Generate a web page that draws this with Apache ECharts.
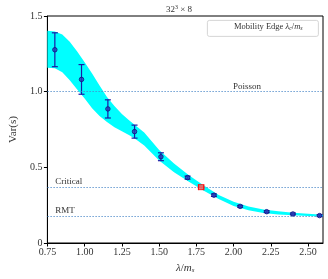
<!DOCTYPE html>
<html>
<head>
<meta charset="utf-8">
<script src="https://cdn.jsdelivr.net/npm/echarts@6/dist/echarts.min.js"></script>
<style>html,body{margin:0;padding:0;background:#fff}#c{width:328px;height:279px}</style>
</head>
<body>
<div id="c"></div>
<script>
// ---- data ----
const bandX     = [0.75, 0.80, 0.85, 0.90, 0.95, 1.00, 1.05, 1.10, 1.15, 1.20, 1.25, 1.30, 1.35, 1.40, 1.50, 1.60, 1.70, 1.80, 1.90, 2.00, 2.10, 2.20, 2.30, 2.40, 2.50, 2.60];
const bandUpper = [1.403, 1.398, 1.378, 1.330, 1.265, 1.195, 1.120, 1.040, 0.965, 0.905, 0.852, 0.810, 0.770, 0.730, 0.615, 0.525, 0.448, 0.380, 0.318, 0.272, 0.241, 0.222, 0.209, 0.200, 0.193, 0.187];
const bandLower = [1.158, 1.155, 1.128, 1.075, 1.015, 0.955, 0.890, 0.840, 0.800, 0.765, 0.738, 0.712, 0.680, 0.645, 0.545, 0.468, 0.405, 0.345, 0.290, 0.245, 0.216, 0.199, 0.188, 0.184, 0.179, 0.175];
const ptX   = [0.800, 0.979, 1.156, 1.335, 1.512, 1.691, 1.868, 2.044, 2.222, 2.398, 2.577];
const ptY   = [1.277, 1.081, 0.886, 0.736, 0.570, 0.432, 0.316, 0.242, 0.207, 0.192, 0.181];
const ptErr = [0.112, 0.098, 0.060, 0.043, 0.026, 0.010, 0.008, 0.006, 0.006, 0.006, 0.006];
const edgeX = [1.782], edgeY = [0.369], edgeXErr = [0.018];
const refY = [1.0, 0.369, 0.178];
const refLabels = ['Poisson', 'Critical', 'RMT'];
const refLabelX = [2.09, 0.803, 0.803];
const xTicks = [0.75, 1.00, 1.25, 1.50, 1.75, 2.00, 2.25, 2.50];
const yTicks = [0, 0.5, 1.0, 1.5];
const yTickLabels = ['0', '0.5', '1.0', '1.5'];

const FONT = '"Liberation Serif", "DejaVu Serif", serif';
const BLUE = '#1a1aa6';
const REF = '#4a86c8';

const chart = echarts.init(document.getElementById('c'), null, {renderer: 'canvas'});

const option = {
  animation: false,
  title: {
    text: '32{sup|3} × 8', left: 161, top: -1,
    textStyle: {fontFamily: FONT, fontSize: 9, fontWeight: 'normal', color: '#333',
      rich: {sup: {fontFamily: FONT, fontSize: 6, verticalAlign: 'top', padding: [0,0,5,0], color: '#333'}}}
  },
  grid: {left: 37, right: 5, top: 16, bottom: 35, show: true, borderColor: '#000', borderWidth: 1, backgroundColor: 'transparent'},
  xAxis: {
    type: 'value', min: 0.75, max: 2.6,
    name: '{i|λ}/{i|m}{s|s}', nameLocation: 'middle', nameGap: 20,
    nameTextStyle: {fontFamily: FONT, fontSize: 11, color: '#333',
      rich: {i: {fontFamily: FONT, fontStyle: 'italic', fontSize: 11, color: '#333'},
             s: {fontFamily: FONT, fontStyle: 'italic', fontSize: 7, verticalAlign: 'bottom', padding: [4,0,0,0], color: '#333'}}},
    axisLine: {show: true, lineStyle: {color: '#000', width: 1}},
    axisTick: {show: true, length: 3.5, lineStyle: {color: '#000'}, customValues: xTicks},
    axisLabel: {fontFamily: FONT, fontSize: 10, color: '#333', margin: 4, customValues: xTicks,
      formatter: v => v.toFixed(2)},
    splitLine: {show: false}
  },
  yAxis: {
    type: 'value', min: 0, max: 1.5, interval: 0.5,
    name: 'Var(s)', nameLocation: 'middle', nameGap: 21,
    nameTextStyle: {fontFamily: FONT, fontSize: 11, color: '#333'},
    axisLine: {show: true, lineStyle: {color: '#000', width: 1}},
    axisTick: {show: true, length: 3.5, lineStyle: {color: '#000'}},
    axisLabel: {fontFamily: FONT, fontSize: 10, color: '#333', margin: 5,
      formatter: v => { const i = yTicks.findIndex(t => Math.abs(t - v) < 1e-9); return i >= 0 ? yTickLabels[i] : ''; }},
    splitLine: {show: false}
  },
  series: [
    {type: 'custom', name: 'band', z: 1, silent: true, clip: true,
     data: [[bandX[0], bandLower[0]]],
     renderItem: (params, api) => {
       const pts = [];
       for (let i = 0; i < bandX.length; i++) pts.push(api.coord([bandX[i], bandUpper[i]]));
       for (let i = bandX.length - 1; i >= 0; i--) pts.push(api.coord([bandX[i], bandLower[i]]));
       return {type: 'polygon', shape: {points: pts}, style: {fill: '#00ffff', stroke: null}};
     }},
    {type: 'line', name: 'refs', data: [], z: 3, silent: true,
     markLine: {silent: true, symbol: 'none', animation: false,
       lineStyle: {color: REF, type: [1.5, 1.5], width: 0.8},
       label: {show: false},
       data: refY.map(y => ({yAxis: y}))},
     markPoint: {silent: true, symbol: 'circle', symbolSize: 0,
       data: refY.map((y, i) => ({coord: [refLabelX[i], y],
         label: {show: true, formatter: refLabels[i], position: [0, -1],
           align: i === 0 ? 'center' : 'left', verticalAlign: 'bottom',
           fontFamily: FONT, fontSize: 9, color: '#333'}}))}
    },
    {type: 'custom', name: 'errBlue', z: 4,
     data: ptX.map((x, i) => [x, ptY[i], ptErr[i]]),
     renderItem: (params, api) => {
       const x = api.value(0), y = api.value(1), e = api.value(2);
       const a = api.coord([x, y + e]), b = api.coord([x, y - e]);
       const s = {stroke: BLUE, lineWidth: 1.2};
       return {type: 'group', children: [
         {type: 'line', shape: {x1: a[0], y1: a[1], x2: b[0], y2: b[1]}, style: s},
         {type: 'line', shape: {x1: a[0]-3, y1: a[1], x2: a[0]+3, y2: a[1]}, style: s},
         {type: 'line', shape: {x1: b[0]-3, y1: b[1], x2: b[0]+3, y2: b[1]}, style: s}
       ]};
     }},
    {type: 'scatter', name: 'points', z: 5, data: ptX.map((x, i) => [x, ptY[i]]),
     symbol: 'circle', symbolSize: 4.5, itemStyle: {color: '#2a3ab8', borderColor: '#101080', borderWidth: 1}},
    {type: 'custom', name: 'errRed', z: 6,
     data: edgeX.map((x, i) => [x, edgeY[i], edgeXErr[i]]),
     renderItem: (params, api) => {
       const x = api.value(0), y = api.value(1), e = api.value(2);
       const a = api.coord([x - e, y]), b = api.coord([x + e, y]);
       const s = {stroke: '#ff2020', lineWidth: 1.2};
       return {type: 'group', children: [
         {type: 'line', shape: {x1: a[0], y1: a[1], x2: b[0], y2: b[1]}, style: s},
         {type: 'line', shape: {x1: a[0], y1: a[1]-3, x2: a[0], y2: a[1]+3}, style: s},
         {type: 'line', shape: {x1: b[0], y1: b[1]-3, x2: b[0], y2: b[1]+3}, style: s}
       ]};
     }},
    {type: 'scatter', name: 'edge', z: 7, data: edgeX.map((x, i) => [x, edgeY[i]]),
     symbol: 'rect', symbolSize: 5, itemStyle: {color: '#ff6060', borderColor: '#ff0000', borderWidth: 1}}
  ],
  graphic: [
    {type: 'rect', left: 207, top: 20, shape: {width: 111, height: 16, r: 2},
     style: {fill: '#fff', stroke: '#ccc', lineWidth: 0.8}, z: 10},
    {type: 'group', left: 213, top: 25, z: 11, children: [
      {type: 'line', shape: {x1: 0.5, y1: 3, x2: 10.5, y2: 3}, style: {stroke: '#ff2020', lineWidth: 1.2}},
      {type: 'line', shape: {x1: 0.5, y1: 0, x2: 0.5, y2: 6}, style: {stroke: '#ff2020', lineWidth: 1.2}},
      {type: 'line', shape: {x1: 10.5, y1: 0, x2: 10.5, y2: 6}, style: {stroke: '#ff2020', lineWidth: 1.2}},
      {type: 'rect', shape: {x: 3.5, y: 0.5, width: 5, height: 5}, style: {fill: '#ff6060', stroke: '#ff0000', lineWidth: 1}}
    ]},
    {type: 'text', left: 234, top: 22, z: 11,
     style: {text: 'Mobility Edge {i|λ}{s|c}/{i|m}{s|s}', fontFamily: FONT, fontSize: 8.5, fill: '#333',
       rich: {i: {fontFamily: FONT, fontStyle: 'italic', fontSize: 8.5},
              s: {fontFamily: FONT, fontStyle: 'italic', fontSize: 6, verticalAlign: 'bottom', padding: [3,0,0,0]}}}}
  ]
};
chart.setOption(option);
</script>
</body>
</html>
